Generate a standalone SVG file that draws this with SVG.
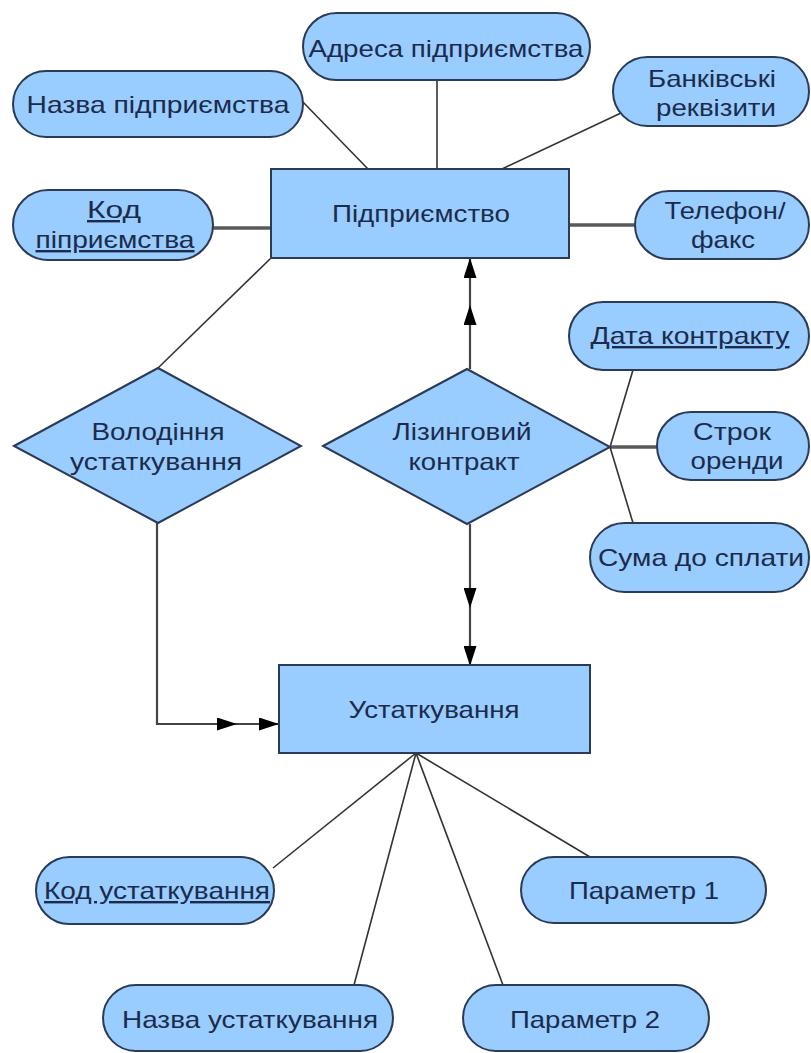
<svg xmlns="http://www.w3.org/2000/svg" width="811" height="1053" viewBox="0 0 811 1053">
  <style>
    .shape { fill: #99ccff; stroke: #2b3a55; stroke-width: 2; }
    .lbl { font-family: "Liberation Sans", Arial, sans-serif; font-size: 24px; fill: #1c2b4a; text-anchor: middle; }
    .key { text-decoration: underline; }
    .link { stroke: #333; stroke-width: 1.6; fill: none; }
    .thick { stroke: #5a5a5a; stroke-width: 3.5; fill: none; }
    .flow { stroke: #444; stroke-width: 2.2; fill: none; marker-end: url(#head); }
  </style>
  <defs>
    <marker id="head" markerUnits="userSpaceOnUse" markerWidth="20" markerHeight="13" refX="20" refY="6.5" orient="auto">
      <path d="M0,0 L20,6.5 L0,13 z" fill="#000"/>
    </marker>
  </defs>
  <rect width="811" height="1053" fill="#fff"/>

  <!-- connectors -->
  <g id="connectors">
    <line class="link" x1="301" y1="100" x2="368" y2="169"/>
    <line class="link" x1="437" y1="80" x2="437" y2="169"/>
    <line class="link" x1="621" y1="113" x2="502" y2="169"/>
    <line class="thick" x1="213" y1="228" x2="271" y2="228"/>
    <line class="thick" x1="569" y1="225" x2="635" y2="225"/>
    <line class="link" x1="271" y1="258" x2="158" y2="368"/>
    <!-- leasing contract to enterprise -->
    <line class="flow" x1="470" y1="369" x2="470" y2="305"/>
    <line class="flow" x1="470" y1="305" x2="470" y2="258"/>
    <!-- leasing contract to equipment -->
    <line class="flow" x1="470" y1="524" x2="470" y2="608"/>
    <line class="flow" x1="470" y1="608" x2="470" y2="666"/>
    <!-- ownership to equipment -->
    <path class="flow" d="M157,523 V724 H237"/>
    <line class="flow" x1="237" y1="724" x2="279" y2="724"/>
    <!-- contract attributes -->
    <line class="link" x1="610" y1="447" x2="633" y2="370"/>
    <line class="thick" x1="610" y1="447" x2="657" y2="447"/>
    <line class="link" x1="610" y1="447" x2="633" y2="523"/>
    <!-- equipment attributes -->
    <line class="link" x1="416" y1="753" x2="273" y2="868"/>
    <line class="link" x1="416" y1="753" x2="354" y2="985"/>
    <line class="link" x1="416" y1="753" x2="503" y2="985"/>
    <line class="link" x1="416" y1="753" x2="590" y2="857"/>
  </g>

  <!-- enterprise entity and its attributes -->
  <g id="adresa">
    <rect class="shape" x="303" y="13" width="287" height="67" rx="33.5"/>
    <text class="lbl" x="446" y="57" textLength="275" lengthAdjust="spacingAndGlyphs">Адреса підприємства</text>
  </g>
  <g id="nazva-pidpryiemstva">
    <rect class="shape" x="13" y="71" width="290" height="66" rx="33"/>
    <text class="lbl" x="158" y="113" textLength="263" lengthAdjust="spacingAndGlyphs">Назва підприємства</text>
  </g>
  <g id="bankivski">
    <rect class="shape" x="613" y="57" width="196" height="69" rx="34.5"/>
    <text class="lbl" x="712" y="87" textLength="128" lengthAdjust="spacingAndGlyphs">Банківські</text>
    <text class="lbl" x="716" y="116" textLength="120" lengthAdjust="spacingAndGlyphs">реквізити</text>
  </g>
  <g id="kod-pidpryiemstva">
    <rect class="shape" x="13" y="190" width="200" height="70" rx="35"/>
    <text class="lbl key" x="114" y="218" textLength="54" lengthAdjust="spacingAndGlyphs">Код </text>
    <text class="lbl key" x="115" y="248" textLength="159" lengthAdjust="spacingAndGlyphs">піприємства</text>
  </g>
  <g id="telefon">
    <rect class="shape" x="635" y="191" width="174" height="68" rx="34"/>
    <text class="lbl" x="725" y="219" textLength="121" lengthAdjust="spacingAndGlyphs">Телефон/</text>
    <text class="lbl" x="723" y="248" textLength="64" lengthAdjust="spacingAndGlyphs">факс</text>
  </g>
  <g id="pidpryiemstvo">
    <rect class="shape" x="271" y="169" width="298" height="89"/>
    <text class="lbl" x="421" y="222" textLength="178" lengthAdjust="spacingAndGlyphs">Підприємство</text>
  </g>

  <!-- relationships -->
  <g id="volodinnia">
    <polygon class="shape" points="14,446 158,368 301,446 158,523"/>
    <text class="lbl" x="158" y="440" textLength="133" lengthAdjust="spacingAndGlyphs">Володіння</text>
    <text class="lbl" x="156" y="470" textLength="172" lengthAdjust="spacingAndGlyphs">устаткування</text>
  </g>
  <g id="lizynhovyi-kontrakt">
    <polygon class="shape" points="323,446 467,369 610,447 467,524"/>
    <text class="lbl" x="462" y="440" textLength="139" lengthAdjust="spacingAndGlyphs">Лізинговий</text>
    <text class="lbl" x="464" y="470" textLength="111" lengthAdjust="spacingAndGlyphs">контракт</text>
  </g>

  <!-- contract attributes -->
  <g id="data-kontraktu">
    <rect class="shape" x="569" y="302" width="240" height="68" rx="34"/>
    <text class="lbl key" x="690" y="344" textLength="199" lengthAdjust="spacingAndGlyphs">Дата контракту</text>
  </g>
  <g id="strok-orendy">
    <rect class="shape" x="657" y="412" width="152" height="68" rx="34"/>
    <text class="lbl" x="732" y="440" textLength="78" lengthAdjust="spacingAndGlyphs">Строк</text>
    <text class="lbl" x="737" y="469" textLength="93" lengthAdjust="spacingAndGlyphs">оренди</text>
  </g>
  <g id="suma">
    <rect class="shape" x="590" y="523" width="219" height="69" rx="34.5"/>
    <text class="lbl" x="701" y="566" textLength="206" lengthAdjust="spacingAndGlyphs">Сума до сплати</text>
  </g>

  <!-- equipment entity and its attributes -->
  <g id="ustatkuvannia">
    <rect class="shape" x="279" y="665" width="311" height="88"/>
    <text class="lbl" x="434" y="718" textLength="171" lengthAdjust="spacingAndGlyphs">Устаткування</text>
  </g>
  <g id="kod-ustatkuvannia">
    <rect class="shape" x="36" y="857" width="238" height="67" rx="33.5"/>
    <text class="lbl key" x="157" y="899" textLength="226" lengthAdjust="spacingAndGlyphs">Код устаткування</text>
  </g>
  <g id="parametr-1">
    <rect class="shape" x="521" y="857" width="245" height="66" rx="33"/>
    <text class="lbl" x="644" y="899" textLength="150" lengthAdjust="spacingAndGlyphs">Параметр 1</text>
  </g>
  <g id="nazva-ustatkuvannia">
    <rect class="shape" x="103" y="985" width="290" height="66" rx="33"/>
    <text class="lbl" x="250" y="1028" textLength="256" lengthAdjust="spacingAndGlyphs">Назва устаткування</text>
  </g>
  <g id="parametr-2">
    <rect class="shape" x="463" y="985" width="246" height="66" rx="33"/>
    <text class="lbl" x="585" y="1028" textLength="150" lengthAdjust="spacingAndGlyphs">Параметр 2</text>
  </g>
</svg>
